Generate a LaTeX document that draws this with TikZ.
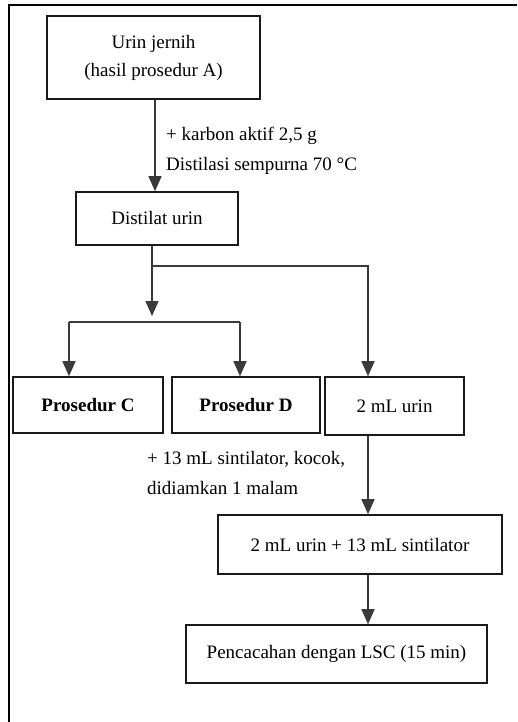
\documentclass[tikz,border=0pt]{standalone}
\usepackage{fontspec}
\setmainfont{Liberation Serif}
\usepackage{xcolor}
\usetikzlibrary{positioning,arrows.meta,calc}
\definecolor{flowline}{HTML}{3A3A3A}
\definecolor{flowbox}{HTML}{1A1A1A}
\tikzset{
  kotak/.style  ={draw=flowbox, line width=1.6pt, fill=white, inner sep=0pt,
                  align=center, font=\fontsize{19}{28}\selectfont},
  tebal/.style  ={kotak, font=\fontsize{19}{28}\selectfont\bfseries},
  catatan/.style={anchor=north west, align=left, inner sep=0pt,
                  font=\fontsize{19}{30}\selectfont},
  panah/.style  ={-{Triangle[length=15pt,width=13pt]}, draw=flowline,
                  line width=1.3pt},
  garis/.style  ={draw=flowline, line width=1.3pt},
  bingkai/.style={draw=black, line width=2pt},
}

\begin{document}
\begin{tikzpicture}[x=1pt,y=-1pt]
  \useasboundingbox (0,0) rectangle (517,722);
  % ---- outer frame --------------------------------------------------------
  \draw[bingkai] (517,5) -- (9,5) -- (9,722);

  % ---- boxes --------------------------------------------------------------
  \node[kotak, minimum width=213pt, minimum height=83pt] (urin)
    at (153.5,57.5) {Urin jernih\\(hasil prosedur A)};
  \node[kotak, minimum width=162pt, minimum height=53pt] (distilat)
    at (157,218.5) {Distilat urin};
  \node[tebal, minimum width=150pt, minimum height=56pt] (prosC)
    at (88,405) {Prosedur C};
  \node[tebal, minimum width=148pt, minimum height=56pt] (prosD)
    at (246,405) {Prosedur D};
  \node[kotak, minimum width=139pt, minimum height=58pt] (duaml)
    at (394.5,406) {2 mL urin};
  \node[kotak, minimum width=284pt, minimum height=59pt] (campur)
    at (360,544.5) {2 mL urin + 13 mL sintilator};
  \node[kotak, minimum width=301pt, minimum height=58pt] (cacah)
    at (336.5,654) {Pencacahan dengan LSC (15 min)};

  % ---- notes --------------------------------------------------------------
  \node[catatan] (karbon) at (166,127)
    {+ karbon aktif 2,5 g\\Distilasi sempurna 70 °C};
  \node[catatan] (sintil) at (147,451)
    {+ 13 mL sintilator, kocok,\\didiamkan 1 malam};

  % ---- connectors ---------------------------------------------------------
  \coordinate (turun) at (155,0);
  \draw[panah] (urin.south -| turun) -- (distilat.north -| turun);

  \coordinate (cabang) at (152,266);
  \coordinate (kanan)  at (368,266);
  \coordinate (ujung)  at (152,316);
  \draw[garis] (distilat.south -| cabang) -- (cabang);
  \draw[panah] (cabang) -- (kanan) -- (kanan |- duaml.north);
  \draw[panah] (cabang) -- (ujung);

  \coordinate (kiriC)  at (69,322);
  \coordinate (kiriD)  at (240,322);
  \draw[garis] (kiriC) -- (kiriD);
  \draw[panah] (kiriC) -- (kiriC |- prosC.north);
  \draw[panah] (kiriD) -- (kiriD |- prosD.north);

  \draw[panah] (kanan |- duaml.south) -- (kanan |- campur.north);
  \draw[panah] (kanan |- campur.south) -- (kanan |- cacah.north);
\end{tikzpicture}
\end{document}
